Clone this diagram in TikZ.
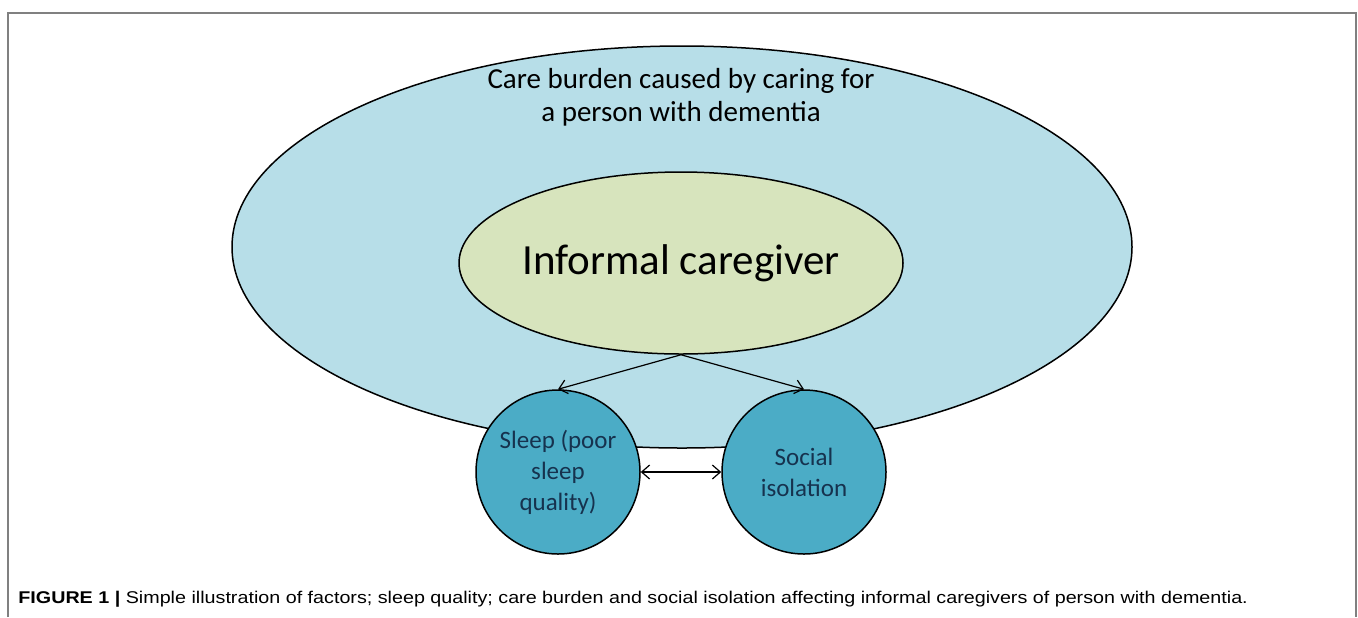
\documentclass[tikz,border=0pt]{standalone}
\usepackage{fontspec}
\setmainfont{Carlito}
\newfontfamily\capfont{Liberation Sans}
\usetikzlibrary{shapes.geometric,arrows.meta}
\definecolor{burdenblue}{RGB}{183,222,232}
\definecolor{carergreen}{RGB}{215,228,189}
\definecolor{factorteal}{RGB}{75,172,198}
\definecolor{factortext}{RGB}{22,50,78}
\definecolor{framegray}{RGB}{128,128,128}
\begin{document}
\begin{tikzpicture}[x=0.5pt,y=-0.5pt,>={Straight Barb[length=4pt,width=7pt]},
	blob/.style={ellipse,draw=black,line width=0.75pt,inner sep=0pt},
	factor/.style={circle,draw=black,line width=0.75pt,fill=factorteal,minimum size=82pt,inner sep=0pt,
		align=center,text=factortext,font=\fontsize{12.5}{15.5}\selectfont},
	link/.style={line width=0.6pt,->}]
	\useasboundingbox (0,0) rectangle (1358,617);
	% frame, open at the bottom
	\draw[framegray,line width=1pt] (8,617) -- (8,13) -- (1356,13) -- (1356,617);
	% care burden
	\node[blob,fill=burdenblue,minimum width=450pt,minimum height=201pt] (burden) at (682,247) {};
	\node[align=center,font=\fontsize{14.5}{16.5}\selectfont,anchor=base] (burdentext) at (681,121)
		{Care burden caused by caring for\\a person with dementia};
	% caregiver
	\node[blob,fill=carergreen,minimum width=222pt,minimum height=91pt,
		label={[font=\fontsize{21.5}{26}\selectfont]center:Informal caregiver}] (carer) at (681,263) {};
	% factors
	\node[factor] (sleep) at (558,472) {Sleep (poor\\sleep\\quality)};
	\node[factor] (social) at (804,472) {Social\\isolation};
	\draw[link] (carer.south) -- (sleep.north);
	\draw[link] (carer.south) -- (social.north);
	\draw[link,<->] (sleep) -- (social);
	% caption
	\node[anchor=base west,inner sep=0pt,font=\capfont\fontsize{8.5}{10}\selectfont] (caption) at (18,603)
		{\scalebox{1.16}[1]{\textbf{FIGURE 1 |} Simple illustration of factors; sleep quality; care burden and social isolation affecting informal caregivers of person with dementia.}};
\end{tikzpicture}
\end{document}
